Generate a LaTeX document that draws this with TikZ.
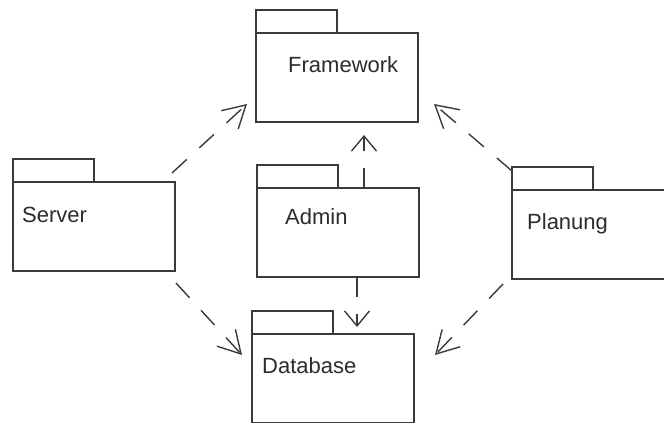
\documentclass[tikz,border=0pt]{standalone}
\usepackage{fontspec}
\setmainfont{Liberation Sans}
\usetikzlibrary{arrows.meta,calc}
\definecolor{ink}{HTML}{3A3A3A}
\definecolor{txt}{HTML}{2C2C2C}
\begin{document}
\begin{tikzpicture}[x=1pt,y=-1pt,
  pkg/.style={draw=ink, line width=1.4pt, minimum width=162pt, minimum height=89pt,
              anchor=north west, inner sep=0pt, outer sep=0pt},
  tabline/.style={draw=ink, line width=1.4pt},
  lbl/.style={text=txt, font=\fontsize{22}{26}\selectfont, inner sep=0pt, anchor=base west},
  dep/.style={draw=ink, line width=1.4pt, dash pattern=on 20pt off 17pt,
              -{Straight Barb[length=#1, width=25pt, line width=1.4pt]}},
  dep/.default=20pt]
  \clip (0,0) rectangle (664,423);
  \useasboundingbox (0,0) rectangle (664,423);

  % package bodies
  \node[pkg] (fw)  at (256,33)  {};
  \node[pkg] (srv) at (13,182)  {};
  \node[pkg] (adm) at (257,188) {};
  \node[pkg] (pl)  at (512,190) {};
  \node[pkg] (db)  at (252,334) {};

  % package tabs
  \foreach \p in {fw,srv,adm,pl,db}
    \draw[tabline] (\p.north west) rectangle ++(81,-23);

  % package names
  \node[lbl] (fwt)  at ($(fw.north west)+(32,39)$)  {Framework};
  \node[lbl] (srvt) at ($(srv.north west)+(9,40)$)  {Server};
  \node[lbl] (admt) at ($(adm.north west)+(28,36)$) {Admin};
  \node[lbl] (plt)  at ($(pl.north west)+(15,39)$)  {Planung};
  \node[lbl] (dbt)  at ($(db.north west)+(10,39)$)  {Database};

  % dependencies
  \draw[dep=22pt] ($(srv.north east)+(-3,-9)$) -- ($(fw.south west)+(-9,-18)$);
  \draw[dep=22pt] ($(pl.north west)+(0,-19)$) -- ($(fw.south east)+(16,-18)$);
  \draw[dep=22pt] ($(srv.south east)+(1,12)$) -- ($(db.north west)+(-10,21)$);
  \draw[dep=22pt] ($(pl.south west)+(-9,5)$) -- ($(db.north east)+(21,21)$);
  \draw[dep=15pt] ($(adm.north west)+(107,0)$) -- ($(fw.south)+(27,13)$);
  \draw[dep=15pt] ($(adm.south west)+(100,0)$) -- ($(db.north west)+(105,-7)$);
\end{tikzpicture}
\end{document}
